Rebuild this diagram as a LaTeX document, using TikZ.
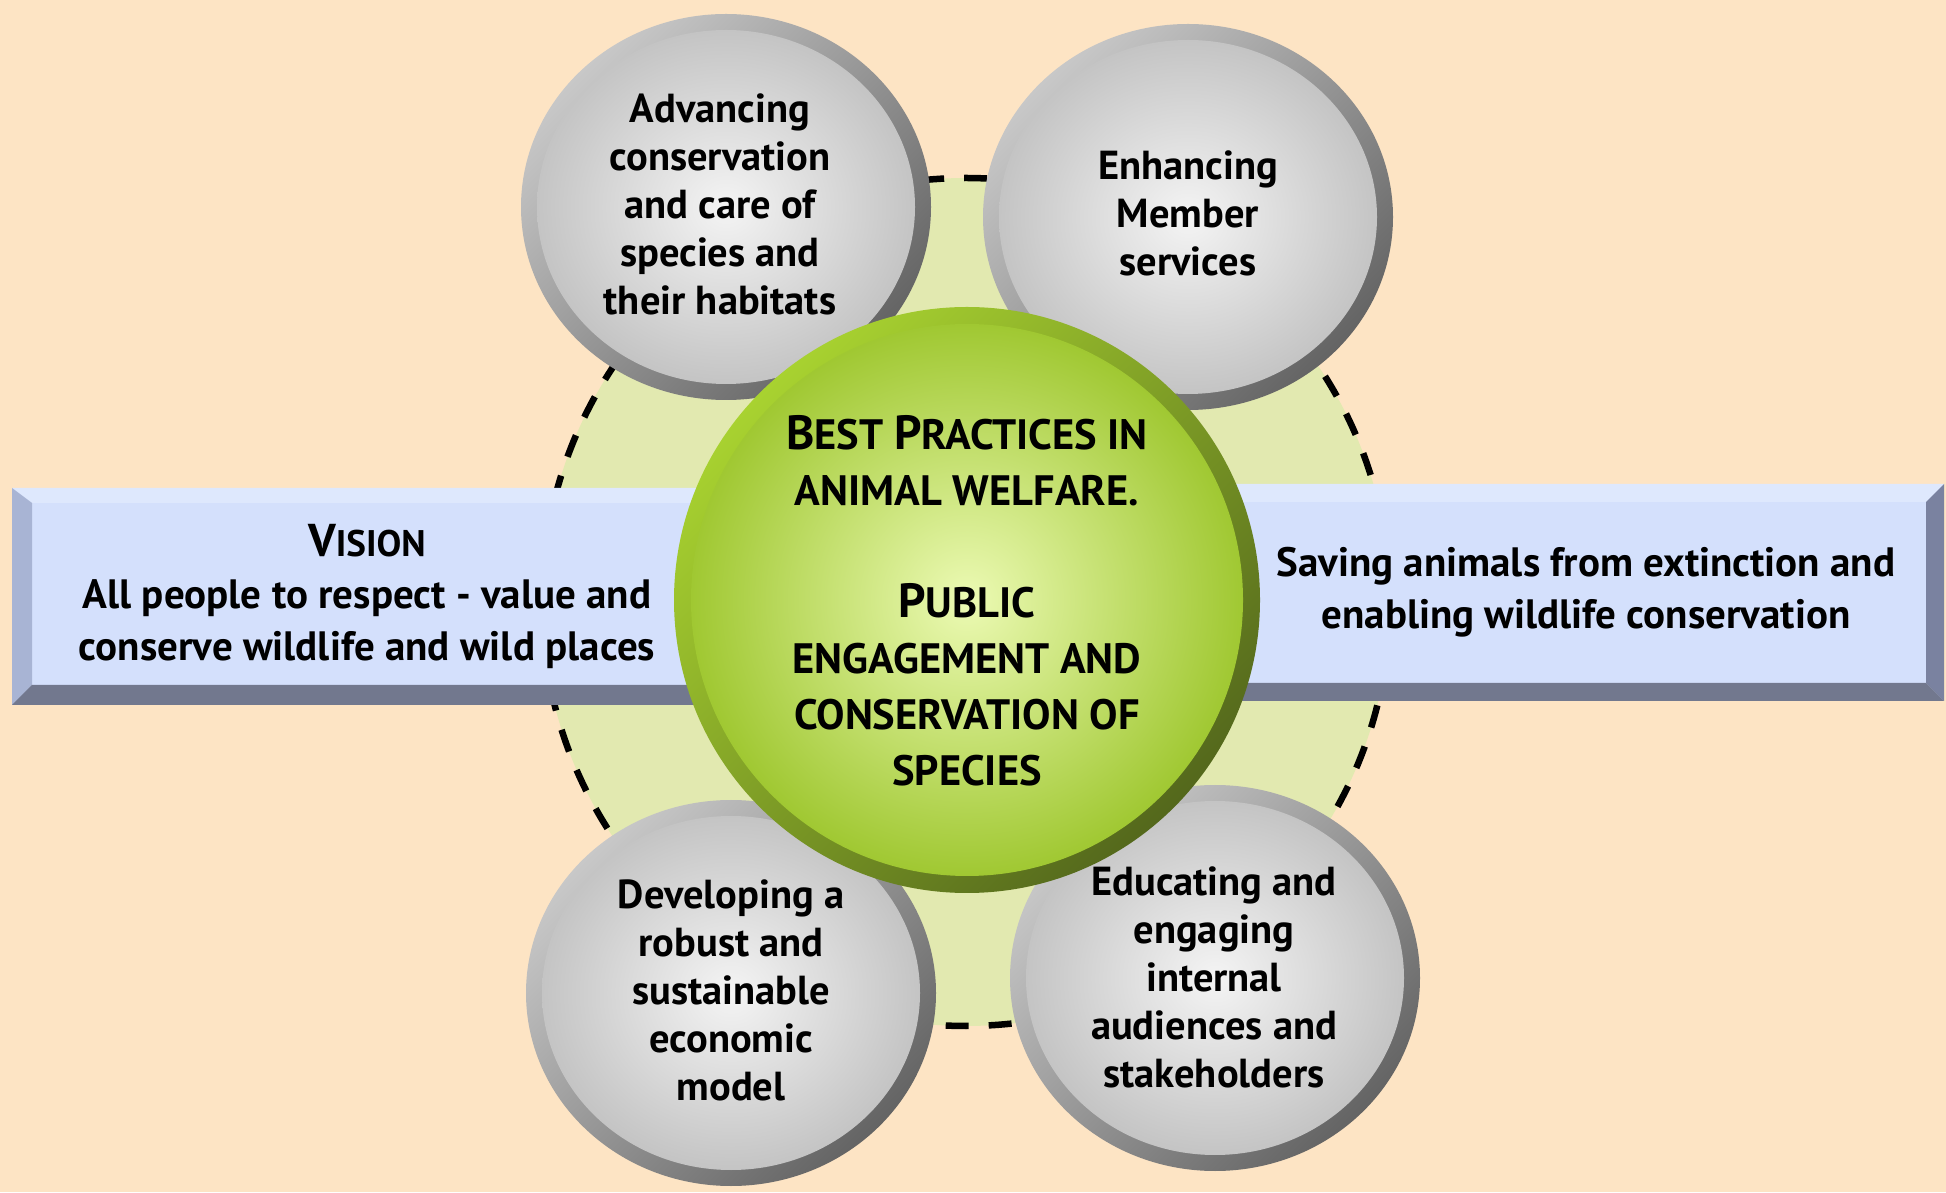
\documentclass[tikz,border=0pt]{standalone}
\usepackage{fontspec}
\setmainfont{PT Sans}
\usetikzlibrary{shapes.geometric}
\definecolor{bg}{RGB}{253,228,196}
\definecolor{dashfill}{RGB}{226,233,176}
\definecolor{face}{RGB}{212,224,252}
\definecolor{bevtop}{RGB}{222,232,253}
\definecolor{bevleft}{RGB}{168,180,212}
\definecolor{bevbot}{RGB}{114,120,142}
\definecolor{bevright}{RGB}{122,130,160}
\definecolor{ringlight}{RGB}{200,200,200}
\definecolor{ringdark}{RGB}{100,100,100}
\definecolor{ballin}{RGB}{244,244,244}
\definecolor{ballout}{RGB}{196,196,196}
\definecolor{gringlight}{RGB}{168,210,48}
\definecolor{gringdark}{RGB}{84,104,28}
\definecolor{gin}{RGB}{236,250,180}
\definecolor{gout}{RGB}{160,200,50}
\tikzset{
  ring/.style={shading=axis, top color=ringlight, bottom color=ringdark, shading angle=45},
  ballface/.style={shading=radial, inner color=ballin, outer color=ballout},
  gring/.style={shading=axis, top color=gringlight, bottom color=gringdark, shading angle=45},
  gface/.style={shading=radial, inner color=gin, outer color=gout},
  txt/.style={font=\bfseries\fontsize{40.5}{48}\selectfont, align=center, inner sep=0pt},
  rtxt/.style={font=\bfseries\fontsize{41}{52}\selectfont, align=center, inner sep=0pt},
  ctxt/.style={font=\bfseries\fontsize{42.5}{56}\selectfont, align=center, inner sep=0pt},
}
\newcommand{\capL}[1]{{\fontsize{48}{56}\selectfont #1}}
\begin{document}
\begin{tikzpicture}[x=1pt,y=1pt]
\useasboundingbox (0,0) rectangle (1946,1192);
\fill[bg] (0,0) rectangle (1946,1192);
% dashed circle
\coordinate (ctr) at (966,590);
\fill[dashfill] (ctr) circle (424);
\draw[line width=6.5pt, dash pattern=on 23pt off 20pt] (ctr) circle (424);
% left rectangle
\fill[face] (12,487) rectangle (730,704);
\fill[bevtop] (12,704) -- (730,704) -- (730,689) -- (32,689) -- cycle;
\fill[bevleft] (12,704) -- (32,689) -- (32,507) -- (12,487) -- cycle;
\fill[bevbot] (12,487) -- (32,507) -- (730,507) -- (730,487) -- cycle;
% right rectangle
\fill[face] (1200,491) rectangle (1944,708);
\fill[bevtop] (1200,708) -- (1944,708) -- (1926,690) -- (1200,690) -- cycle;
\fill[bevright] (1944,708) -- (1926,690) -- (1926,509) -- (1944,491) -- cycle;
\fill[bevbot] (1200,491) -- (1944,491) -- (1926,509) -- (1200,509) -- cycle;
% gray balls
\foreach \n/\cx/\cy in {tl/726/985, tr/1188/975, bl/731/199, br/1215/214}{
  \shade[ring] (\cx,\cy) ellipse (205 and 193);
  \shade[ballface] (\cx,\cy) ellipse (189 and 177);
}
% green ball
\shade[gring] (967,592) circle (293);
\shade[gface] (967,592) circle (276);
% texts
\node[rtxt] (vision) at (367,595) {{\fontsize{46}{52}\selectfont V}{\fontsize{37}{52}\selectfont ISION}\\All people to respect - value and\\conserve wildlife and wild places};
\node[rtxt] (saving) at (1586,600) {Saving animals from extinction and\\enabling wildlife conservation};
\node[txt] (tltext) at (720,988) {Advancing\\conservation\\and care of\\species and\\their habitats};
\node[txt] (trtext) at (1188,979) {Enhancing\\Member\\services};
\node[txt] (bltext) at (731,202) {Developing a\\robust and\\sustainable\\economic\\model};
\node[txt] (brtext) at (1214,215) {Educating and\\engaging\\internal\\audiences and\\stakeholders};
\node[ctxt] (center) at (967,591) {\capL{B}EST \capL{P}RACTICES IN\\ANIMAL WELFARE.\\ \strut\\ \capL{P}UBLIC\\ENGAGEMENT AND\\CONSERVATION OF\\SPECIES};
\end{tikzpicture}
\end{document}
